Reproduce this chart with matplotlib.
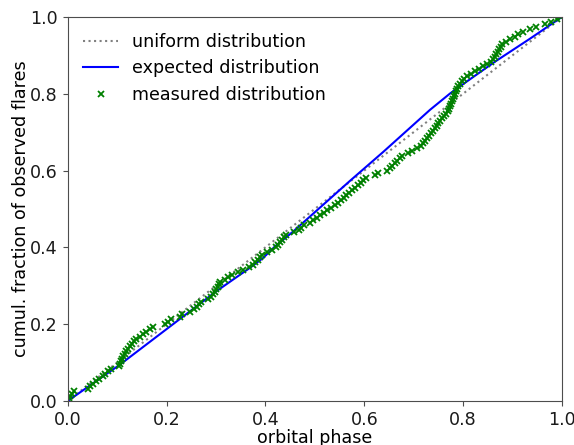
import numpy as np
import matplotlib
matplotlib.use("Agg")
import matplotlib.pyplot as plt

# fazele orbitale ale flare-urilor masurate (sortate)
phases = [0.002, 0.005, 0.008, 0.012,
          0.040, 0.046, 0.052,
          0.058, 0.064, 0.071,
          0.076, 0.082, 0.088,
          0.103, 0.105, 0.107, 0.110, 0.112,
          0.115, 0.118, 0.122, 0.126, 0.130, 0.134, 0.139,
          0.146, 0.152, 0.158, 0.166, 0.172,
          0.197, 0.203, 0.209,
          0.227, 0.232,
          0.248, 0.255, 0.262, 0.265, 0.269,
          0.284, 0.289, 0.293, 0.297, 0.300, 0.304, 0.306, 0.309,
          0.318, 0.325, 0.332,
          0.345, 0.355, 0.366,
          0.374, 0.379, 0.384, 0.389, 0.394,
          0.403, 0.414,
          0.421, 0.425, 0.429, 0.433, 0.437, 0.442,
          0.458,
          0.467, 0.472, 0.478,
          0.490, 0.497, 0.504, 0.511,
          0.518, 0.525, 0.533,
          0.541, 0.547, 0.553, 0.559, 0.564, 0.570,
          0.575, 0.581, 0.587, 0.593, 0.598, 0.604,
          0.621, 0.628,
          0.647, 0.652, 0.657, 0.662, 0.667, 0.672, 0.677,
          0.688, 0.697, 0.706, 0.714,
          0.719, 0.723, 0.727, 0.731, 0.735, 0.739, 0.743, 0.747,
          0.750, 0.754, 0.758, 0.762, 0.766, 0.769, 0.772,
          0.774, 0.776, 0.778, 0.780, 0.782, 0.784, 0.786, 0.788, 0.790, 0.793, 0.797, 0.802,
          0.808, 0.816, 0.824, 0.832, 0.840, 0.848, 0.856,
          0.861, 0.864, 0.867, 0.870, 0.873, 0.876, 0.879,
          0.886, 0.895, 0.904, 0.912,
          0.922, 0.935, 0.948,
          0.965, 0.978, 0.990, 0.998]

# distributia asteptata
exp_x = [0, 0.105, 0.30, 0.368, 0.395, 0.419, 0.456, 0.571, 0.638, 0.733, 0.773, 0.80, 0.864, 0.935, 1.0]
exp_y = [0, 0.094, 0.285, 0.346, 0.372, 0.402, 0.441, 0.573, 0.648, 0.758, 0.80, 0.825, 0.883, 0.943, 1.0]

meas_x = np.sort(phases)
meas_y = np.arange(1, len(meas_x) + 1) / len(meas_x)

plt.rcParams['font.size'] = 12.6
plt.rcParams['axes.edgecolor'] = '0.3'
plt.rcParams['xtick.color'] = '0.3'
plt.rcParams['ytick.color'] = '0.3'
plt.rcParams['xtick.labelcolor'] = '0.1'
plt.rcParams['ytick.labelcolor'] = '0.1'

fig = plt.figure(figsize=(5.74, 4.45), dpi=100)
ax = fig.add_subplot(111)
fig.subplots_adjust(left=0.118, right=0.979, bottom=0.099, top=0.962)

ax.plot([0, 1], [0, 1], ls=':', color='gray', label='uniform distribution')
ax.plot(exp_x, exp_y, color='blue', label='expected distribution')
ax.plot(meas_x, meas_y, ls='none', marker='x', ms=4, mew=1.3, color='green',
        label='measured distribution')

ax.set_xlim(0, 1)
ax.set_ylim(0, 1)
ax.set_xlabel('orbital phase', labelpad=0)
ax.set_ylabel('cumul. fraction of observed flares', labelpad=0.5)
ax.legend(loc='upper left', frameon=False)

fig.savefig('out.png', dpi=100)
